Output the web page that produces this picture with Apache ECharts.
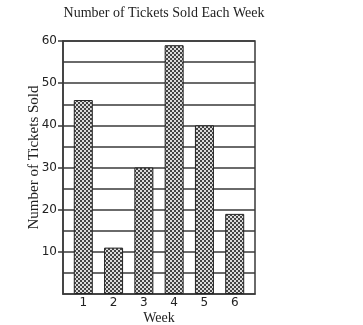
<!DOCTYPE html>
<html><head><meta charset="utf-8">
<script src="https://cdn.jsdelivr.net/npm/echarts@6/dist/echarts.min.js"></script>
<style>html,body{margin:0;padding:0;background:#fff}#c{width:363px;height:325px}</style>
</head><body><div id="c"></div>
<script>
const weeks = [1, 2, 3, 4, 5, 6];
const tickets = [46, 11, 30, 59, 40, 19];
const yLabels = [10, 20, 30, 40, 50, 60];

const pc = document.createElement('canvas');
pc.width = 4; pc.height = 4;
const ctx = pc.getContext('2d');
ctx.fillStyle = '#dcdcdc'; ctx.fillRect(0, 0, 4, 4);
ctx.fillStyle = '#444';
ctx.fillRect(0, 0, 2, 2); ctx.fillRect(2, 2, 2, 2);

const chart = echarts.init(document.getElementById('c'), null, {renderer: 'canvas'});
const lineColor = '#3a3a3a';
chart.setOption({
  animation: false,
  title: {
    text: 'Number of Tickets Sold Each Week',
    left: 159, textAlign: 'center', top: 1,
    textStyle: {fontFamily: 'Liberation Serif', fontSize: 14, fontWeight: 'normal', color: '#222'}
  },
  grid: {left: 63, top: 41, width: 192, height: 253, outerBoundsMode: 'none', containLabel: false,
         show: true, borderColor: lineColor, borderWidth: 1.5, backgroundColor: 'transparent'},
  xAxis: {
    type: 'value', min: 0.33, max: 6.67,
    name: 'Week', nameLocation: 'middle', nameGap: 17, nameMoveOverlap: false,
    nameTextStyle: {fontFamily: 'Liberation Serif', fontSize: 14, color: '#222', verticalAlign: 'top'},
    axisLine: {show: true, lineStyle: {color: lineColor, width: 1.5}},
    axisTick: {show: false},
    splitLine: {show: false},
    axisLabel: {customValues: weeks, fontFamily: 'DejaVu Sans', fontSize: 12, color: '#222', margin: 3}
  },
  yAxis: {
    type: 'value', min: 0, max: 60, interval: 10,
    name: 'Number of Tickets Sold', nameLocation: 'middle', nameGap: 21, nameMoveOverlap: false,
    nameTextStyle: {fontFamily: 'Liberation Serif', fontSize: 15, color: '#222', verticalAlign: 'bottom',
                    padding: [0, 0, 0, 20]},
    axisLine: {show: true, lineStyle: {color: lineColor, width: 1.5}},
    axisTick: {show: true, length: 5, customValues: yLabels, lineStyle: {color: lineColor, width: 1.5}},
    minorTick: {show: false, splitNumber: 2},
    splitLine: {show: true, lineStyle: {color: lineColor, width: 1.5}},
    minorSplitLine: {show: true, lineStyle: {color: lineColor, width: 1.5}},
    axisLabel: {
      customValues: yLabels,
      fontFamily: 'DejaVu Sans', fontSize: 12, color: '#222', margin: 6
    }
  },
  series: [{
    type: 'bar',
    data: weeks.map((w, i) => [w, tickets[i]]),
    barWidth: 19,
    itemStyle: {color: {image: pc, repeat: 'repeat'}, borderColor: '#222', borderWidth: 1}
  }]
});
</script></body></html>
